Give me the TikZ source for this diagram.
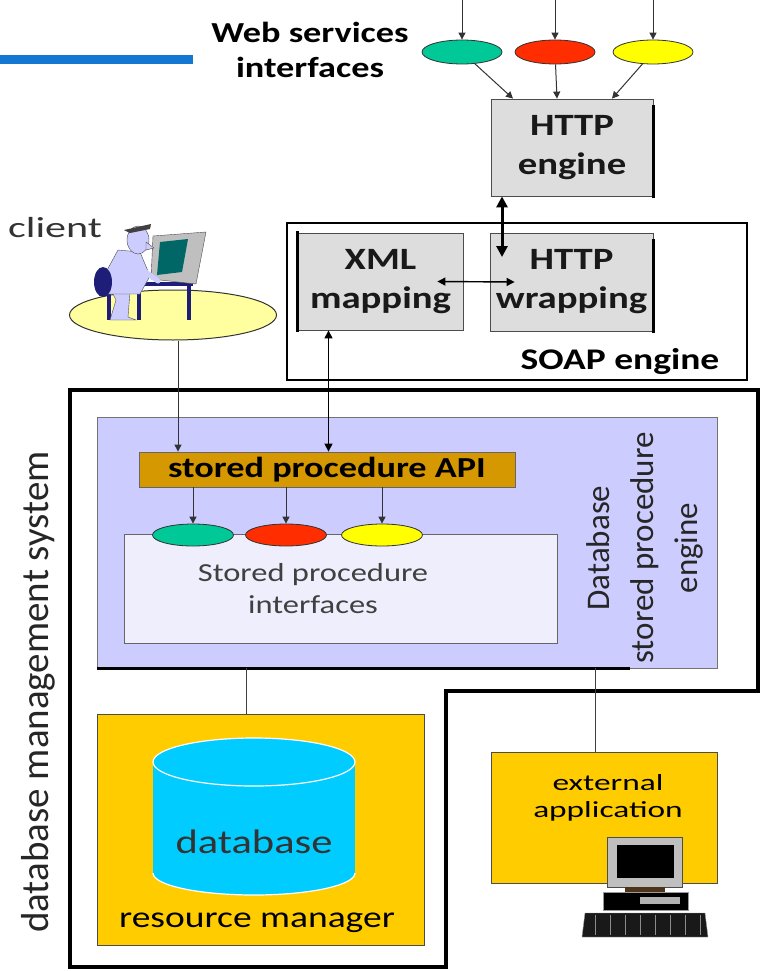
\documentclass[tikz,border=0pt]{standalone}
\usepackage{fontspec}
\setmainfont{Carlito}
\newfontfamily\wfont[FakeStretch=1.25]{Carlito}
\newfontfamily\xwfont[FakeStretch=1.45]{Carlito}
\usetikzlibrary{arrows.meta,shapes.geometric}
\definecolor{barblue}{RGB}{20,120,210}
\definecolor{wsgreen}{RGB}{0,200,150}
\definecolor{wsred}{RGB}{255,45,0}
\definecolor{wsyellow}{RGB}{255,255,0}
\definecolor{boxgray}{RGB}{221,221,221}
\definecolor{lav}{RGB}{204,204,255}
\definecolor{spfill}{RGB}{238,238,252}
\definecolor{apibrown}{RGB}{214,152,0}
\definecolor{gold}{RGB}{255,204,0}
\definecolor{cylblue}{RGB}{0,204,255}
\definecolor{deskyellow}{RGB}{255,255,160}
\definecolor{navy}{RGB}{30,30,120}
\definecolor{scrteal}{RGB}{0,102,102}
\tikzstyle{iface}=[ellipse,draw=black!80,line width=0.8pt,minimum width=80pt,minimum height=24pt,inner sep=0pt]
\tikzstyle{graybox}=[draw=black!70,fill=boxgray,line width=0.8pt,align=center,inner sep=0pt,text=black!90,font=\wfont\bfseries\fontsize{31}{39}\selectfont]
\tikzstyle{goldbox}=[draw=black!70,fill=gold,line width=0.8pt,inner sep=0pt]
\tikzstyle{arr}=[draw=black!80,line width=1pt,-{Triangle[length=7pt,width=7pt]}]
\tikzstyle{dblarr}=[draw=black,line width=1.4pt,{Triangle[length=8pt,width=8pt]}-{Triangle[length=8pt,width=8pt]}]
\tikzstyle{bigarr}=[draw=black,line width=3pt,{Triangle[length=11pt,width=11pt]}-{Triangle[length=11pt,width=11pt]}]
\tikzstyle{thinline}=[draw=black!75,line width=1pt]
\tikzstyle{shadowedge}=[line width=2.5pt,line cap=rect]
\begin{document}
\begin{tikzpicture}[x=1pt,y=-1pt]
\useasboundingbox (0,0) rectangle (765,971);
\fill[barblue] (0,55) rectangle (193,64);
\coordinate (top) at (0,0);
\node[font=\wfont\bfseries\fontsize{29}{35}\selectfont,align=center] (wslbl) at (310,50) {Web services\\interfaces};
\node[iface,fill=wsgreen] (ws1) at (462,52) {};
\node[iface,fill=wsred] (ws2) at (555,52) {};
\node[iface,fill=wsyellow] (ws3) at (653,52) {};
\foreach \i in {1,2,3}
  \draw[arr] (ws\i |- top) -- (ws\i);
\node[graybox,minimum width=162pt,minimum height=97pt] (http) at (572,147.5) {HTTP\\engine};
\draw[shadowedge] ([yshift=-8pt]http.north east) -- (http.south east);
\draw[arr] (ws1) -- ([xshift=-59pt]http.north);
\draw[arr] (ws2) -- ([xshift=-15pt]http.north);
\draw[arr] (ws3) -- ([xshift=40pt]http.north);

\node[draw=black,line width=2pt,minimum width=460pt,minimum height=157pt] (soap) at (517,301.5) {};
\node[font=\wfont\bfseries\fontsize{30}{36}\selectfont] (soaplbl) at (620,362) {SOAP engine};
\node[graybox,minimum width=165pt,minimum height=97pt] (xml) at (380.5,281.5) {XML\\mapping};
\draw[shadowedge] (xml.north west) -- (xml.south west);
\node[graybox,minimum width=163pt,minimum height=98pt] (wrap) at (571.5,282) {HTTP\\wrapping};
\draw[shadowedge] ([yshift=-8pt]wrap.north east) -- (wrap.south east);
\coordinate (wrapin) at (502,257);
\draw[bigarr] (http.south -| wrapin) -- (wrapin);
\draw[dblarr] ([xshift=-26pt]xml.east) -- ([xshift=25pt]wrap.west);

\draw[line width=3.5pt] (70,390) -- (758,390) -- (758,691) -- (446,691) -- (446,967) -- (70,967) -- cycle;
\node[rotate=90,font=\fontsize{39}{47}\selectfont,text=black!85] (dbmslbl) at (38,692) {database management system};

\node[draw=black!55,fill=lav,line width=0.8pt,minimum width=620pt,minimum height=251pt] (sproc) at (407,542.5) {};
\draw[shadowedge,line cap=butt] (sproc.south west) -- ++(533,0);
\node[rotate=90,align=center,font=\fontsize{33}{44}\selectfont,text=black!85] (sproclbl) at (645,548) {Database\\stored procedure\\engine};
\node[draw=black!60,fill=apibrown,line width=0.8pt,minimum width=376pt,minimum height=35pt,font=\wfont\bfseries\fontsize{29}{35}\selectfont] (api) at (327,469.5) {stored procedure API};
\node[draw=black!60,fill=spfill,line width=0.8pt,minimum width=433pt,minimum height=109pt] (spif) at (340.5,588.5) {};
\node[font=\wfont\fontsize{26}{32}\selectfont,align=center,text=black!75] (spiflbl) at (313,589) {Stored procedure\\interfaces};
\node[iface,minimum width=81pt,minimum height=22pt,fill=wsgreen] (sp1) at (193,535) {};
\node[iface,minimum width=81pt,minimum height=22pt,fill=wsred] (sp2) at (286,535) {};
\node[iface,minimum width=81pt,minimum height=22pt,fill=wsyellow] (sp3) at (382,535) {};
\foreach \i in {1,2,3}
  \draw[arr] (api.south -| sp\i) -- (sp\i);

\node[font=\xwfont\fontsize{29}{35}\selectfont,text=black!80] (clientlbl) at (55,228) {client};
\node[ellipse,draw=black!80,fill=deskyellow,line width=1pt,minimum width=207pt,minimum height=50pt] (desk) at (173,315) {};
% client at the terminal
\fill[navy] (137,282) rectangle (193,286);
\fill[navy] (137,283) rectangle (141,320);
\fill[navy] (187,283) rectangle (191,320);
\filldraw[fill=black!25,draw=black!70] (153,236) -- (206,232) -- (196,284) -- (151,279) -- cycle;
\fill[scrteal] (160,242) -- (188,239) -- (182,272) -- (157,275) -- cycle;
\fill[navy] (107,294) rectangle (111,320);
\filldraw[fill=lav,draw=black!70] (112,292) -- (130,292) -- (128,317) -- (136,320) -- (110,320) -- (116,300) -- cycle;
\filldraw[fill=lav,draw=black!70] (118,250) -- (140,252) -- (150,276) -- (140,294) -- (108,294) -- (106,272) -- cycle;
\fill[navy] (103,282) ellipse [x radius=9,y radius=15];
\draw[lav,line width=5pt,line cap=round] (132,262) -- (158,281);
\filldraw[fill=lav,draw=black!70] (138,240) ellipse [x radius=11,y radius=14];
\filldraw[fill=lav,draw=black!70] (146,242) -- (154,248) -- (146,250) -- cycle;
\fill[black!75] (124,230) -- (151,224) -- (150,229) -- (130,233) -- cycle;
\draw[arr] ([xshift=5pt]desk.south) -- ([xshift=5pt]desk.south |- api.north);
\draw[dblarr,line width=1.2pt] ([xshift=-52pt]xml.south) -- ([xshift=-52pt]xml.south |- api.north);

\node[goldbox,minimum width=327pt,minimum height=231pt] (rm) at (260.5,829.5) {};
\fill[cylblue] (153,762) rectangle (355,873);
\fill[cylblue] (254,873) ellipse [x radius=101,y radius=22];
\draw[white,line width=1.2pt] (153,873) arc[start angle=180,end angle=0,x radius=101,y radius=22];
\filldraw[fill=cylblue,draw=white,line width=1.2pt] (254,762) ellipse [x radius=101,y radius=24];
\node[font=\wfont\fontsize{34}{40}\selectfont,text=black!80] (db) at (254,842) {database};
\node[font=\wfont\fontsize{30}{36}\selectfont] (rmlbl) at (257,923) {resource manager};
\draw[thinline] ([xshift=-14.5pt]rm.north) -- ([xshift=-14.5pt]rm.north |- sproc.south);

\node[goldbox,minimum width=226pt,minimum height=131pt] (ext) at (604,817.5) {};
\node[font=\xwfont\fontsize{23}{27}\selectfont,align=center] (extlbl) at (608,798) {external\\application};
\draw[thinline] ([xshift=-9pt]ext.north) -- ([xshift=-9pt]ext.north |- sproc.south);
% external computer
\filldraw[fill=black!25,draw=black!70] (607,837) rectangle (682,887);
\fill[black] (617,845) rectangle (674,878);
\fill[black!60!brown] (625,887) rectangle (665,892);
\filldraw[fill=black,draw=black!40] (603,892) rectangle (688,910);
\fill[black!30] (640,897) rectangle (680,904);
\filldraw[fill=black!90,draw=black!40] (585,913) -- (705,913) -- (708,937) -- (582,937) -- cycle;
\foreach \k in {595,610,...,700}
  \draw[black!45] (\k,915) -- (\k,935);
\end{tikzpicture}
\end{document}
